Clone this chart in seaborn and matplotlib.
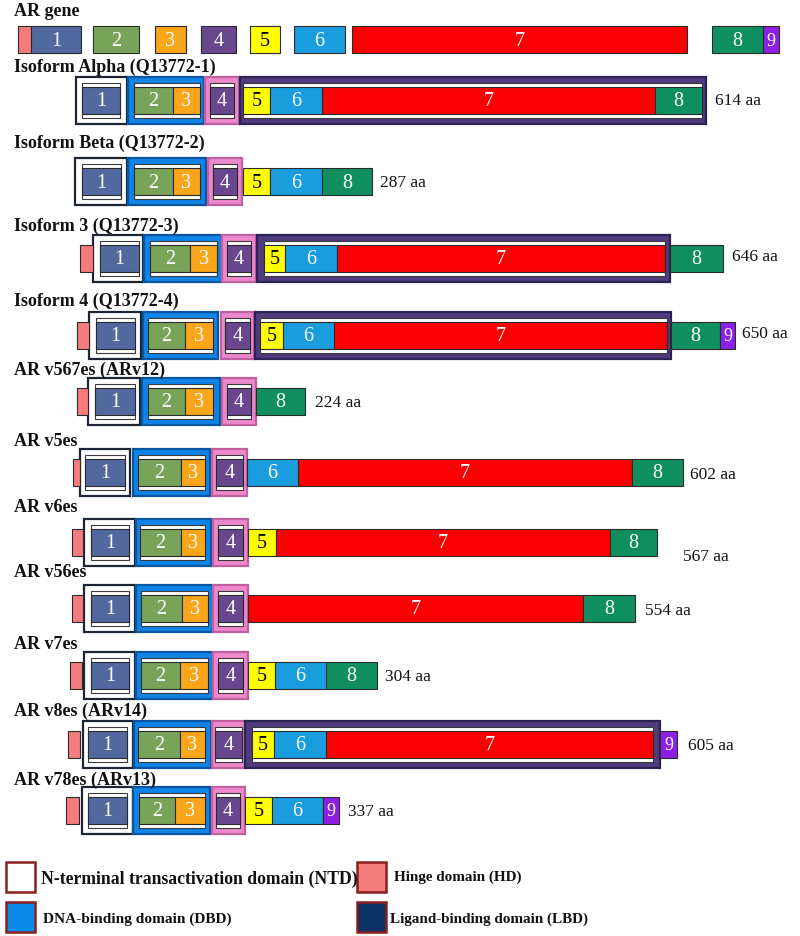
import matplotlib
matplotlib.use("Agg")
import matplotlib.pyplot as plt
import seaborn as sns
from matplotlib.patches import Rectangle

sns.set_theme(style="white")
plt.rcParams['font.family'] = ['Liberation Serif', 'DejaVu Serif']

# row titles, their vertical position and the protein length label
row_names = ["AR gene", "Isoform Alpha (Q13772-1)", "Isoform Beta (Q13772-2)",
             "Isoform 3 (Q13772-3)", "Isoform 4 (Q13772-4)", "AR v567es (ARv12)",
             "AR v5es", "AR v6es", "AR v56es", "AR v7es", "AR v8es (ARv14)",
             "AR v78es (ARv13)"]
row_label_y = [12, 67, 143, 226, 301, 370, 442, 508, 573, 645, 711, 780]
row_mid = [40, 101, 182, 259, 336, 402, 473, 543, 609, 676, 745, 811]
row_size = ["", "614 aa", "287 aa", "646 aa", "650 aa", "224 aa", "602 aa",
            "567 aa", "554 aa", "304 aa", "605 aa", "337 aa"]
row_size_x = [0, 715, 380, 732, 742, 315, 690, 683, 645, 385, 688, 348]
row_size_y = [0, 101, 183, 257, 334, 403, 475, 557, 611, 677, 746, 812]

# exons per row: (exon, start, end), H = hinge piece
gene_exons = [("H", 18, 31), ("1", 31, 81), ("2", 93, 139), ("3", 155, 186),
              ("4", 201, 236), ("5", 250, 280), ("6", 294, 345), ("7", 352, 687),
              ("8", 712, 763), ("9", 763, 779)]
alpha_exons = [("1", 82, 120), ("2", 134, 173), ("3", 173, 200), ("4", 210, 234),
               ("5", 243, 270), ("6", 270, 322), ("7", 322, 655), ("8", 655, 702)]
beta_exons = [("1", 82, 121), ("2", 134, 173), ("3", 173, 200), ("4", 213, 237),
              ("5", 243, 270), ("6", 270, 322), ("8", 322, 372)]
iso3_exons = [("H", 80, 93), ("1", 100, 139), ("2", 150, 190), ("3", 190, 217),
              ("4", 227, 251), ("5", 264, 285), ("6", 285, 337), ("7", 337, 665),
              ("8", 670, 723)]
iso4_exons = [("H", 77, 89), ("1", 96, 135), ("2", 148, 185), ("3", 185, 213),
              ("4", 225, 250), ("5", 260, 283), ("6", 283, 334), ("7", 334, 667),
              ("8", 671, 720), ("9", 720, 735)]
v567_exons = [("H", 77, 88), ("1", 95, 135), ("2", 148, 185), ("3", 185, 213),
              ("4", 227, 251), ("8", 256, 305)]
v5_exons = [("H", 73, 80), ("1", 85, 125), ("2", 138, 181), ("3", 181, 205),
            ("4", 216, 243), ("6", 247, 298), ("7", 298, 632), ("8", 632, 683)]
v6_exons = [("H", 72, 83), ("1", 91, 129), ("2", 140, 181), ("3", 181, 205),
            ("4", 218, 243), ("5", 248, 276), ("7", 276, 610), ("8", 610, 657)]
v56_exons = [("H", 72, 83), ("1", 91, 129), ("2", 141, 182), ("3", 182, 208),
             ("4", 218, 243), ("7", 248, 583), ("8", 583, 635)]
v7_exons = [("H", 70, 82), ("1", 91, 129), ("2", 141, 180), ("3", 180, 208),
            ("4", 218, 243), ("5", 248, 275), ("6", 275, 326), ("8", 326, 377)]
v8_exons = [("H", 68, 80), ("1", 88, 127), ("2", 138, 180), ("3", 180, 205),
            ("4", 215, 242), ("5", 252, 274), ("6", 274, 326), ("7", 326, 653),
            ("9", 660, 677)]
v78_exons = [("H", 66, 79), ("1", 88, 127), ("2", 139, 175), ("3", 175, 205),
             ("4", 216, 240), ("5", 245, 272), ("6", 272, 323), ("9", 323, 339)]
row_exons = [gene_exons, alpha_exons, beta_exons, iso3_exons, iso4_exons, v567_exons,
             v5_exons, v6_exons, v56_exons, v7_exons, v8_exons, v78_exons]

# domain frames per row: (domain, start, end)
alpha_dom = [("NTD", 76, 127), ("DBD", 128, 204), ("HD", 205, 239), ("LBD", 240, 706)]
beta_dom = [("NTD", 75, 127), ("DBD", 128, 206), ("HD", 208, 242)]
iso3_dom = [("NTD", 93, 143), ("DBD", 144, 222), ("HD", 222, 256), ("LBD", 257, 670)]
iso4_dom = [("NTD", 89, 141), ("DBD", 143, 218), ("HD", 221, 254), ("LBD", 255, 671)]
v567_dom = [("NTD", 88, 140), ("DBD", 142, 220), ("HD", 222, 256)]
v5_dom = [("NTD", 80, 130), ("DBD", 133, 210), ("HD", 212, 247)]
v6_dom = [("NTD", 84, 135), ("DBD", 136, 211), ("HD", 213, 248)]
v56_dom = [("NTD", 84, 135), ("DBD", 136, 213), ("HD", 213, 248)]
v7_dom = [("NTD", 84, 135), ("DBD", 136, 213), ("HD", 213, 248)]
v8_dom = [("NTD", 83, 133), ("DBD", 134, 211), ("HD", 212, 245), ("LBD", 245, 660)]
v78_dom = [("NTD", 82, 133), ("DBD", 133, 210), ("HD", 212, 245)]
row_domains = [[], alpha_dom, beta_dom, iso3_dom, iso4_dom, v567_dom, v5_dom,
               v6_dom, v56_dom, v7_dom, v8_dom, v78_dom]

legend_names = ["N-terminal transactivation domain (NTD)", "Hinge domain (HD)",
                "DNA-binding domain (DBD)", "Ligand-binding domain (LBD)"]

exon_colors = {"H": "#f47c7c", "1": "#51699f", "2": "#78a45a", "3": "#fba51a",
               "4": "#68478f", "5": "#ffff00", "6": "#1a9ddf", "7": "#fb0000",
               "8": "#0f8f5f", "9": "#8d1fe6"}
frame_face = {"NTD": "white", "DBD": "#0f84e8", "HD": "#ee88cc", "LBD": "#4f3b7e"}
frame_edge = {"NTD": "#1d2535", "DBD": "#0a55a0", "HD": "#c0609f", "LBD": "#2d2352"}

fig = plt.figure(figsize=(8, 9.37), dpi=100)
ax = fig.add_axes([0, 0, 1, 1])
ax.set_xlim(0, 800)
ax.set_ylim(937, 0)
ax.axis("off")

for i, name in enumerate(row_names):
    mid = row_mid[i]
    ax.text(14, row_label_y[i], name, fontsize=13, fontweight="bold",
            color="#111111", ha="left", va="center")
    # domain frames with white inner strip
    for dom, x0, x1 in row_domains[i]:
        ax.barh(mid, x1 - x0, left=x0, height=47, color=frame_face[dom],
                edgecolor=frame_edge[dom], linewidth=1.6, zorder=1)
        inside = [e for e in row_exons[i] if e[0] != "H" and e[1] >= x0 - 1 and e[2] <= x1 + 2]
        if inside:
            s0 = min(e[1] for e in inside)
            s1 = max(e[2] for e in inside)
            ax.barh(mid, s1 - s0, left=s0, height=35, color="white",
                    edgecolor="#3a3a3a", linewidth=0.8, zorder=2)
    for ex, x0, x1 in row_exons[i]:
        ax.barh(mid, x1 - x0, left=x0, height=27, color=exon_colors[ex],
                edgecolor="#2a2a2a", linewidth=0.8, zorder=3)
        if ex != "H":
            ax.text((x0 + x1) / 2, mid + 1, ex, fontsize=14.5 if x1 - x0 > 18 else 13,
                    color="black" if ex == "5" else "white",
                    ha="center", va="center", zorder=4)
    if row_size[i]:
        ax.text(row_size_x[i], row_size_y[i], row_size[i], fontsize=12.5,
                color="#111111", ha="left", va="center")

# legend
leg_face = ["white", "#f47c7c", "#0a8ae8", "#0b3264"]
leg_x = [6, 357, 6, 357]
leg_y = [863, 863, 903, 903]
leg_tx = [41, 394, 43, 390]
leg_ty = [879, 877, 919, 919]
leg_fs = [12.7, 10.9, 11.1, 10.9]
for k in range(4):
    ax.add_patch(Rectangle((leg_x[k], leg_y[k]), 29, 30, facecolor=leg_face[k],
                           edgecolor="#8b1e1e", linewidth=1.8))
    ax.text(leg_tx[k], leg_ty[k], legend_names[k], fontsize=leg_fs[k],
            fontweight="bold", color="#111111", ha="left", va="center")

fig.savefig("out.png", dpi=100)
